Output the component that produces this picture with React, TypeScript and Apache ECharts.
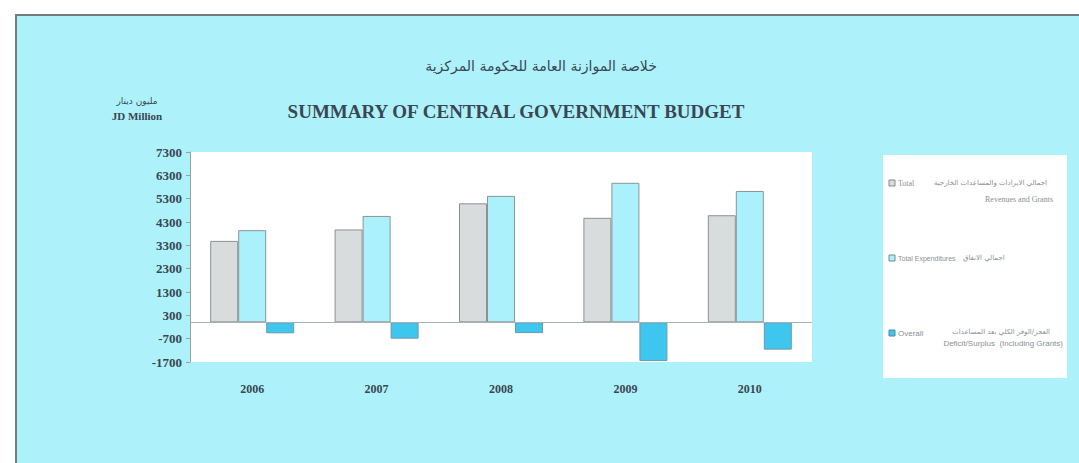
import React, { useEffect, useRef } from "react";
import * as echarts from "echarts";

const years = ["2006", "2007", "2008", "2009", "2010"];
const revenuesAndGrants = [3490, 3980, 5100, 4480, 4590];
const totalExpenditures = [3950, 4560, 5420, 5980, 5630];
const overallDeficit = [-470, -700, -460, -1660, -1170];

const titleArabic = "خلاصة الموازنة العامة للحكومة المركزية";
const titleEnglish = "SUMMARY OF CENTRAL GOVERNMENT BUDGET";
const unitArabic = "مليون دينار";
const unitEnglish = "JD Million";

const BG = "#adf2fb";
const GRAY = "#d9dcdc";
const CYAN = "#aaf1fb";
const BLUE = "#3fc6ee";
const LABEL = "#3a4652";
const LEG = "#8a9094";

export default function App() {
  const ref = useRef<HTMLDivElement>(null);
  useEffect(() => {
    if (!ref.current) return;
    const chart = echarts.init(ref.current, undefined, { renderer: "svg" });
    const serif = "Liberation Serif";
    const arab = "DejaVu Sans";
    const sans = "Liberation Sans";
    chart.setOption({
      animation: false,
      backgroundColor: "#ffffff",
      graphic: [
        {
          type: "rect",
          z: -10,
          shape: { x: 16, y: 15, width: 1080, height: 470 },
          style: { fill: BG, stroke: "#6f7d80", lineWidth: 2 },
        },
        {
          type: "rect",
          z: -5,
          shape: { x: 883, y: 155, width: 184, height: 223 },
          style: { fill: "#ffffff" },
        },
        {
          type: "text",
          style: { text: titleArabic, x: 541, y: 66, align: "center", verticalAlign: "middle", font: `14px "${arab}"`, fill: LABEL },
        },
        {
          type: "text",
          style: { text: titleEnglish, x: 516, y: 111, align: "center", verticalAlign: "middle", font: `bold 19px "${serif}"`, fill: LABEL },
        },
        {
          type: "text",
          style: { text: unitArabic, x: 137, y: 101, align: "center", verticalAlign: "middle", font: `9px "${arab}"`, fill: LABEL },
        },
        {
          type: "text",
          style: { text: unitEnglish, x: 137, y: 116, align: "center", verticalAlign: "middle", font: `bold 11px "${serif}"`, fill: LABEL },
        },
        // legend row 1
        { type: "rect", shape: { x: 889, y: 180, width: 6, height: 6 }, style: { fill: GRAY, stroke: "#7f8a8c", lineWidth: 1 } },
        { type: "text", style: { text: "Total", x: 898, y: 183, verticalAlign: "middle", font: `8px "${serif}"`, fill: LEG } },
        { type: "text", style: { text: "اجمالي الايرادات والمساعدات الخارجية", x: 1047, y: 183, align: "right", verticalAlign: "middle", font: `7px "${arab}"`, fill: LEG } },
        { type: "text", style: { text: "Revenues and Grants", x: 1053, y: 199, align: "right", verticalAlign: "middle", font: `8px "${serif}"`, fill: LEG } },
        // legend row 2
        { type: "rect", shape: { x: 889, y: 255, width: 6, height: 6 }, style: { fill: CYAN, stroke: "#6f8a90", lineWidth: 1 } },
        { type: "text", style: { text: "Total Expenditures", x: 898, y: 258, verticalAlign: "middle", font: `7px "${sans}"`, fill: LEG } },
        { type: "text", style: { text: "اجمالي الانفاق", x: 963, y: 258, verticalAlign: "middle", font: `7px "${arab}"`, fill: LEG } },
        // legend row 3
        { type: "rect", shape: { x: 889, y: 330, width: 6, height: 6 }, style: { fill: BLUE, stroke: "#4d8aa0", lineWidth: 1 } },
        { type: "text", style: { text: "Overall", x: 898, y: 333, verticalAlign: "middle", font: `8px "${sans}"`, fill: LEG } },
        { type: "text", style: { text: "العجز/الوفر الكلي بعد المساعدات", x: 1050, y: 332, align: "right", verticalAlign: "middle", font: `7px "${arab}"`, fill: LEG } },
        { type: "text", style: { text: "Deficit/Surplus  (Including Grants)", x: 1063, y: 343, align: "right", verticalAlign: "middle", font: `8px "${sans}"`, fill: LEG } },
      ],
      grid: {
        left: 190,
        top: 152,
        width: 622,
        height: 210,
        show: true,
        backgroundColor: "#ffffff",
        borderWidth: 0,
      },
      xAxis: {
        type: "category",
        data: years,
        axisLine: { show: false, onZero: false },
        axisTick: { show: false },
        axisLabel: { margin: 21, fontFamily: serif, fontWeight: "bold", fontSize: 12, color: LABEL },
      },
      yAxis: {
        type: "value",
        min: -1700,
        max: 7300,
        interval: 1000,
        axisLine: { show: true, lineStyle: { color: "#9aa0a4" } },
        axisTick: { show: true, length: 4, lineStyle: { color: "#9aa0a4" } },
        splitLine: { show: false },
        axisLabel: {
          margin: 8,
          fontFamily: serif,
          fontWeight: "bold",
          fontSize: 13,
          color: LABEL,
          formatter: (v: number) => String(v),
        },
      },
      series: [
        {
          name: "Total Revenues and Grants",
          type: "bar",
          data: revenuesAndGrants,
          barWidth: 28,
          barGap: "0%",
          itemStyle: { color: GRAY, borderColor: "#8a9092", borderWidth: 1 },
          markLine: {
            silent: true,
            symbol: "none",
            label: { show: false },
            lineStyle: { color: "#a9b0b3", type: "solid", width: 1 },
            data: [{ yAxis: 0 }],
          },
        },
        {
          name: "Total Expenditures",
          type: "bar",
          data: totalExpenditures,
          barWidth: 28,
          barGap: "0%",
          itemStyle: { color: CYAN, borderColor: "#8a9496", borderWidth: 1 },
        },
        {
          name: "Overall Deficit/Surplus (Including Grants)",
          type: "bar",
          data: overallDeficit,
          barWidth: 28,
          barGap: "0%",
          itemStyle: { color: BLUE, borderColor: "#6a9aaa", borderWidth: 1 },
        },
      ],
    });
    return () => chart.dispose();
  }, []);
  return <div ref={ref} style={{ position: "absolute", left: 0, top: 0, width: 1079, height: 463 }} />;
}
